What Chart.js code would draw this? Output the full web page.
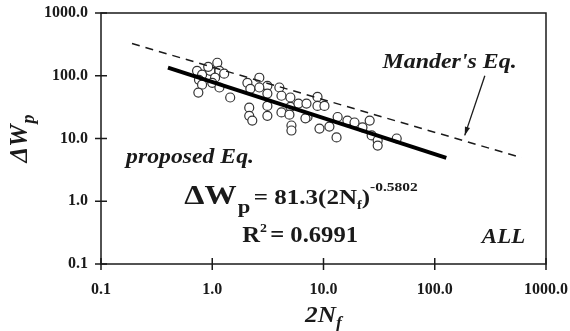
<!DOCTYPE html>
<html>
<head>
<meta charset="utf-8">
<script src="https://cdn.jsdelivr.net/npm/chart.js@4.4.1/dist/chart.umd.min.js"></script>
<style>
  html, body { margin: 0; padding: 0; background: #fff; }
  #wrap { width: 570px; height: 331px; }
</style>
</head>
<body>
<div id="wrap"><canvas id="chart" width="570" height="331"></canvas></div>
<script>
// axis ticks (log decades)
const xTicks = [0.1, 1, 10, 100, 1000];
const yTicks = [0.1, 1, 10, 100, 1000];
const tickLabels = ["0.1", "1.0", "10.0", "100.0", "1000.0"];

// test results: 2Nf and plastic energy dWp
const cycles = [0.73, 0.81, 0.76, 0.81, 0.75, 0.96, 1.11, 1.16, 1.06, 1.0, 1.16, 1.45, 2.07, 2.20, 2.65, 2.15, 2.15, 2.29,
  3.13, 3.13, 3.13, 3.13, 4.01, 4.19, 4.19, 5.04, 5.04, 4.94, 5.15, 5.15, 5.95, 7.03, 7.18, 8.83, 8.83, 10.2, 9.20,
  11.3, 13.1, 13.4, 16.4, 19.0, 22.4, 26.0, 27.1, 30.7, 30.7, 45.5, 2.65, 6.88, 0.92, 1.28];
const energy = [120, 104, 86, 72, 54, 120, 161, 120, 93, 77, 65, 45, 77, 62, 93, 31, 23, 19.3,
  69, 52, 33, 23, 65, 48, 26, 45, 32, 24, 16.1, 13.4, 36, 36, 22, 46, 33, 33, 14.4,
  15.5, 10.4, 22, 19.3, 18, 15, 19.3, 11.2, 9.3, 7.7, 10.0, 65, 21, 139, 108];

// proposed fit line end points
const fitX = [0.40, 127];
const fitY = [135, 4.9];

// Mander's equation end points
const manderX = [0.19, 604];
const manderY = [326, 4.94];

// arrow from label to Mander's line (data coords)
const arrowFrom = [282, 100];
const arrowTo = [186, 11.2];

const serif = '"Liberation Serif", "Times New Roman", serif';
const ink = '#1a1a1a';

function toPts(xs, ys) {
  return xs.map((v, i) => ({ x: v, y: ys[i] }));
}

// draws a row of text pieces, stretched horizontally by sx
function drawRuns(ctx, x0, y0, parts, sx) {
  ctx.save();
  ctx.translate(x0, y0);
  ctx.scale(sx || 1, 1);
  let xx = 0;
  parts.forEach(p => {
    ctx.font = p.font;
    ctx.fillText(p.t, xx, p.dy || 0);
    xx += ctx.measureText(p.t).width + (p.gap || 0);
  });
  ctx.restore();
}

function runsWidth(ctx, parts) {
  let w = 0;
  parts.forEach(p => { ctx.font = p.font; w += ctx.measureText(p.t).width + (p.gap || 0); });
  return w;
}

const decorations = {
  id: 'decorations',
  afterDraw(chart) {
    const { ctx, chartArea: a, scales: { x, y } } = chart;
    ctx.save();
    ctx.strokeStyle = ink;
    ctx.fillStyle = ink;
    ctx.lineWidth = 1.5;
    ctx.strokeRect(a.left, a.top, a.right - a.left, a.bottom - a.top);

    // tick marks crossing the axes
    ctx.beginPath();
    xTicks.forEach(v => {
      const px = x.getPixelForValue(v);
      ctx.moveTo(px, a.bottom - 6);
      ctx.lineTo(px, a.bottom + 6);
    });
    yTicks.forEach(v => {
      const py = y.getPixelForValue(v);
      ctx.moveTo(a.left - 6, py);
      ctx.lineTo(a.left + 6, py);
    });
    ctx.stroke();

    // arrow
    const ax0 = x.getPixelForValue(arrowFrom[0]), ay0 = y.getPixelForValue(arrowFrom[1]);
    const ax1 = x.getPixelForValue(arrowTo[0]), ay1 = y.getPixelForValue(arrowTo[1]);
    ctx.lineWidth = 1.3;
    ctx.beginPath();
    ctx.moveTo(ax0, ay0);
    ctx.lineTo(ax1, ay1);
    ctx.stroke();
    const ang = Math.atan2(ay1 - ay0, ax1 - ax0);
    ctx.beginPath();
    ctx.moveTo(ax1, ay1);
    ctx.lineTo(ax1 - 9 * Math.cos(ang - 0.3), ay1 - 9 * Math.sin(ang - 0.3));
    ctx.lineTo(ax1 - 9 * Math.cos(ang + 0.3), ay1 - 9 * Math.sin(ang + 0.3));
    ctx.closePath();
    ctx.fill();

    ctx.textBaseline = 'alphabetic';
    ctx.textAlign = 'left';
    const it = 'italic bold 21px ' + serif;
    const mp = [{ t: "Mander's Eq.", font: it }];
    drawRuns(ctx, x.getPixelForValue(136) - runsWidth(ctx, mp) * 1.14 / 2, y.getPixelForValue(134), mp, 1.14);
    drawRuns(ctx, x.getPixelForValue(0.168), y.getPixelForValue(4.0), [{ t: 'proposed Eq.', font: it }], 1.13);
    drawRuns(ctx, x.getPixelForValue(265), y.getPixelForValue(0.215), [{ t: 'ALL', font: 'italic bold 20px ' + serif }], 1.15);

    // regression formula
    drawRuns(ctx, x.getPixelForValue(0.56), y.getPixelForValue(0.90), [
      { t: '\u0394W', font: 'bold 27px ' + serif, gap: 1 },
      { t: 'p', font: 'bold 19px ' + serif, dy: 9, gap: 3 },
      { t: '= 81.3(2N', font: 'bold 21px ' + serif },
      { t: 'f', font: 'bold 12px ' + serif, dy: 5 },
      { t: ')', font: 'bold 21px ' + serif },
      { t: '-0.5802', font: 'bold 13px ' + serif, dy: -13 }
    ], 1.19);
    drawRuns(ctx, x.getPixelForValue(1.86), y.getPixelForValue(0.223), [
      { t: 'R', font: 'bold 23px ' + serif },
      { t: '2', font: 'bold 13px ' + serif, dy: -10, gap: 3 },
      { t: '= 0.6991', font: 'bold 23px ' + serif }
    ], 1.07);

    // axis titles
    const xt = [
      { t: '2N', font: 'italic bold 23px ' + serif },
      { t: 'f', font: 'italic bold 16px ' + serif, dy: 6 }
    ];
    const cx = (a.left + a.right) / 2;
    drawRuns(ctx, cx - runsWidth(ctx, xt) * 1.1 / 2, 322, xt, 1.1);

    const yt = [
      { t: '\u0394W', font: 'italic bold 25px ' + serif, gap: 1 },
      { t: 'p', font: 'italic bold 18px ' + serif, dy: 7 }
    ];
    ctx.translate(27, (a.top + a.bottom) / 2);
    ctx.rotate(-Math.PI / 2);
    drawRuns(ctx, -runsWidth(ctx, yt) / 2, 0, yt);
    ctx.restore();
  }
};

new Chart(document.getElementById('chart'), {
  type: 'scatter',
  data: {
    datasets: [
      {
        label: "Mander's Eq.",
        data: toPts(manderX, manderY),
        showLine: true,
        borderColor: ink,
        borderWidth: 1.5,
        borderDash: [8, 6],
        pointRadius: 0,
        order: 0
      },
      {
        label: 'proposed Eq.',
        data: toPts(fitX, fitY),
        showLine: true,
        borderColor: '#000',
        borderWidth: 4,
        pointRadius: 0,
        order: 0
      },
      {
        label: 'ALL',
        data: toPts(cycles, energy),
        backgroundColor: '#fff',
        borderColor: '#333',
        borderWidth: 1.2,
        pointRadius: 4.5,
        order: 1
      }
    ]
  },
  options: {
    responsive: false,
    animation: false,
    layout: { padding: { top: 13, right: 24, left: 0, bottom: 0 } },
    plugins: { legend: { display: false }, tooltip: { enabled: false } },
    scales: {
      x: {
        type: 'logarithmic',
        min: 0.1,
        max: 1000,
        afterBuildTicks: s => { s.ticks = xTicks.map(v => ({ value: v })); },
        afterFit: s => { s.height = 67; s.paddingLeft = 0; s.paddingRight = 0; },
        grid: { display: false, drawTicks: false },
        border: { display: false },
        ticks: {
          padding: 16,
          autoSkip: false,
          color: ink,
          font: { family: serif, size: 16, weight: 'bold' },
          maxRotation: 0,
          callback: (v) => tickLabels[xTicks.indexOf(v)]
        }
      },
      y: {
        type: 'logarithmic',
        min: 0.1,
        max: 1000,
        afterBuildTicks: s => { s.ticks = yTicks.map(v => ({ value: v })); },
        afterFit: s => { s.width = 101; s.paddingTop = 0; s.paddingBottom = 0; },
        grid: { display: false, drawTicks: false },
        border: { display: false },
        ticks: {
          padding: 13,
          autoSkip: false,
          color: ink,
          font: { family: serif, size: 16, weight: 'bold' },
          callback: (v) => tickLabels[yTicks.indexOf(v)]
        }
      }
    }
  },
  plugins: [decorations]
});
</script>
</body>
</html>
